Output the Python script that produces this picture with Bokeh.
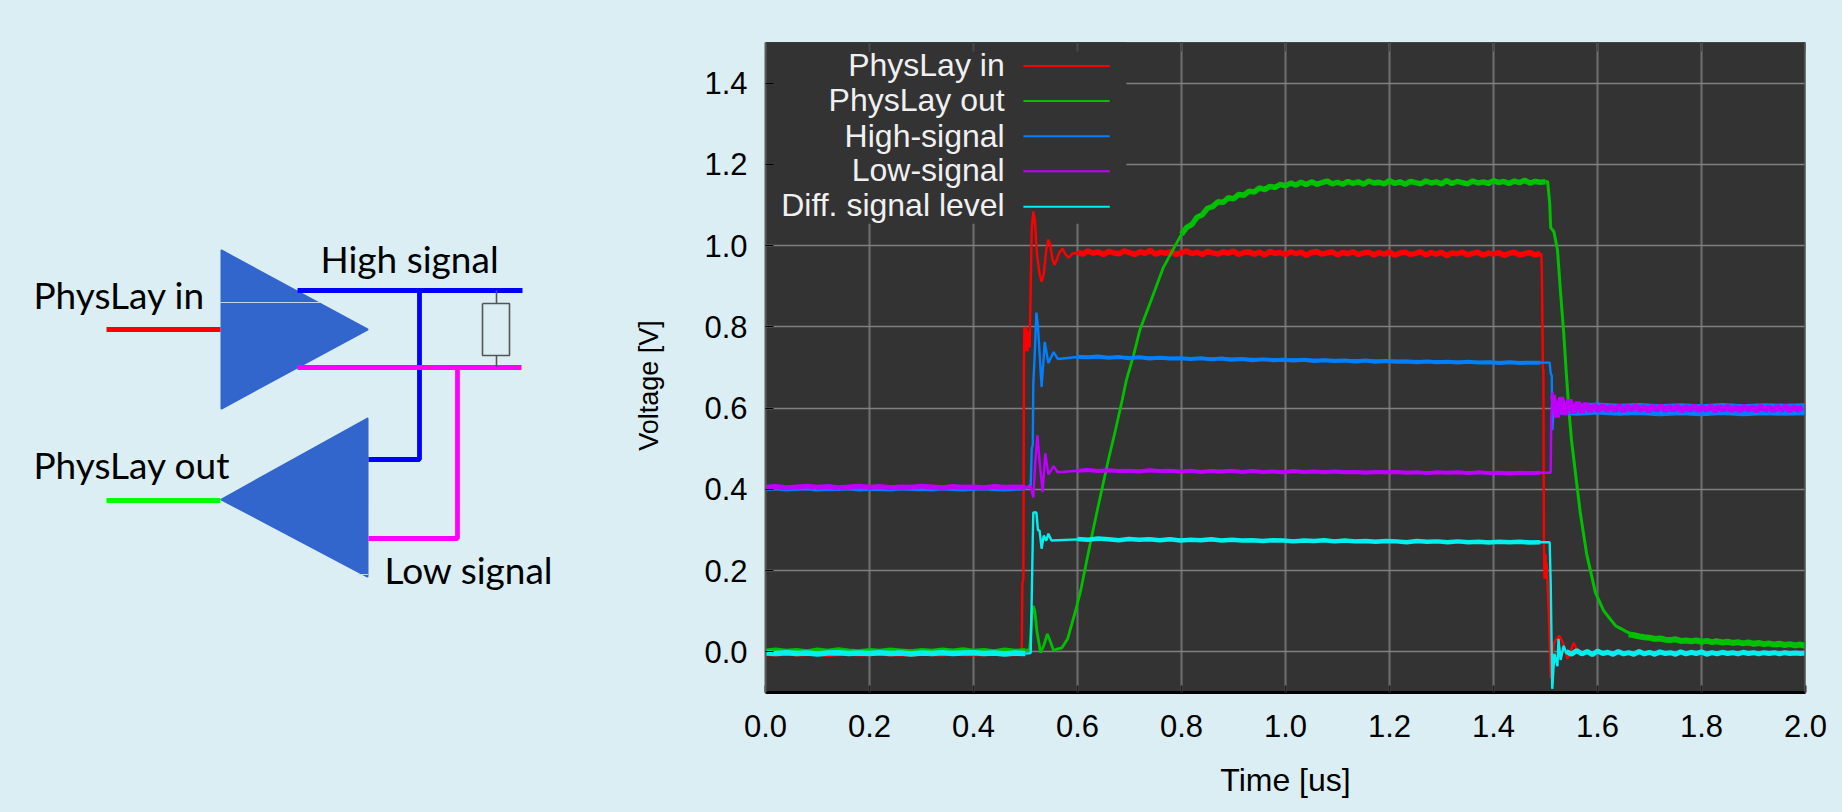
import math
import numpy as np
from bokeh.core.properties import value
from bokeh.embed import file_html
from bokeh.layouts import row
from bokeh.models import FixedTicker, NumeralTickFormatter, Range1d, Span
from bokeh.plotting import figure
from bokeh.resources import INLINE

PAGE_BG = "#dbeef4"
PLOT_BG = "#333333"

x_ticks = [0.0, 0.2, 0.4, 0.6, 0.8, 1.0, 1.2, 1.4, 1.6, 1.8, 2.0]
y_ticks = [0.0, 0.2, 0.4, 0.6, 0.8, 1.0, 1.2, 1.4]

series_names = ["PhysLay in", "PhysLay out", "High-signal", "Low-signal", "Diff. signal level"]
series_colors = ["#ff0000", "#00c000", "#0080ff", "#c000ff", "#00f0f0"]

# ---- thin parts: edges and ringing -------------------------------------------
red_t = [0.49, 0.492, 0.493, 0.494, 0.496, 0.497, 0.498, 0.500, 0.502, 0.504, 0.506, 0.508, 0.510, 0.512, 0.515,
         0.518, 0.522, 0.527, 0.531, 0.535, 0.540, 0.544, 0.548, 0.552, 0.556, 0.560, 0.565, 0.571, 0.576, 0.583,
         0.590, 0.600, 1.490, 1.492, 1.493, 1.495, 1.496, 1.497, 1.498, 1.500, 1.501, 1.502, 1.506, 1.510, 1.512,
         1.516, 1.520, 1.527, 1.534, 1.542, 1.548, 1.554, 1.562, 1.570]
red_v = [-0.004, 0.0, 0.02, 0.17, 0.18, 0.72, 0.80, 0.74, 0.80, 0.74, 0.79, 0.75, 0.90, 1.04, 1.084,
         1.06, 0.98, 0.93, 0.911, 0.93, 0.99, 1.015, 1.00, 0.965, 0.953, 0.965, 0.982, 0.993, 0.98, 0.970,
         0.98, 0.983, 0.979, 0.980, 0.935, 0.70, 0.69, 0.26, 0.18, 0.24, 0.18, 0.22, 0.11, -0.065, -0.02,
         0.02, 0.03, 0.04, 0.02, -0.017, 0.0, 0.022, 0.002, -0.002]

green_t = [0.50, 0.508, 0.510, 0.512, 0.515, 0.518, 0.522, 0.529, 0.535, 0.542, 0.548, 0.554, 0.560, 0.570, 0.581,
           0.596, 0.606, 0.615, 0.625, 0.638, 0.650, 0.660, 0.673, 0.686, 0.694, 0.708, 0.720, 0.740, 0.765, 0.788,
           0.800]
green_v = [0.004, 0.006, 0.04, 0.09, 0.113, 0.10, 0.05, -0.002, 0.015, 0.044, 0.025, 0.003, 0.007, 0.010, 0.032,
           0.10, 0.15, 0.207, 0.27, 0.348, 0.418, 0.476, 0.546, 0.62, 0.669, 0.731, 0.793, 0.86, 0.946, 1.0,
           1.028]
green_fall_t = [1.500, 1.504, 1.508, 1.510, 1.516, 1.523, 1.529, 1.535, 1.540, 1.545, 1.550, 1.560, 1.567, 1.579,
                1.596, 1.612, 1.635, 1.670]
green_fall_v = [1.157, 1.158, 1.106, 1.044, 1.035, 0.99, 0.884, 0.785, 0.686, 0.595, 0.521, 0.415, 0.341, 0.242,
                0.146, 0.101, 0.064, 0.040]

blue_t = [0.50, 0.510, 0.512, 0.514, 0.515, 0.518, 0.521, 0.524, 0.531, 0.537, 0.544, 0.554, 0.562, 0.60,
          1.50, 1.508, 1.510, 1.512, 1.513, 1.516]
blue_v = [0.403, 0.41, 0.50, 0.51, 0.66, 0.74, 0.835, 0.80, 0.652, 0.763, 0.711, 0.738, 0.721, 0.726,
          0.712, 0.712, 0.686, 0.68, 0.546, 0.60]

purple_t = [0.50, 0.510, 0.515, 0.519, 0.523, 0.527, 0.533, 0.538, 0.544, 0.554, 0.562, 0.60,
            1.50, 1.510, 1.511, 1.514]
purple_v = [0.405, 0.406, 0.38, 0.47, 0.533, 0.47, 0.393, 0.489, 0.437, 0.457, 0.442, 0.446,
            0.441, 0.441, 0.58, 0.64]

cyan_t = [0.50, 0.510, 0.512, 0.514, 0.515, 0.521, 0.524, 0.527, 0.531, 0.535, 0.540, 0.544, 0.550, 0.60,
          1.50, 1.508, 1.510, 1.512, 1.513, 1.517, 1.523, 1.525, 1.529, 1.535, 1.540]
cyan_v = [-0.004, -0.003, 0.133, 0.279, 0.343, 0.343, 0.299, 0.299, 0.254, 0.286, 0.274, 0.291, 0.274, 0.277,
          0.270, 0.270, 0.17, -0.005, -0.091, -0.005, -0.035, 0.032, -0.02, 0.015, -0.003]

# ---- noisy parts: thick bands -------------------------------------------------
pre_t = np.linspace(0.0, 0.50, 26)
red_pre = [-0.005, -0.006, -0.004, -0.006, -0.005, -0.004, -0.007, -0.005, -0.004, -0.006, -0.005, -0.004, -0.006,
           -0.005, -0.007, -0.004, -0.005, -0.006, -0.004, -0.005, -0.006, -0.005, -0.004, -0.006, -0.005, -0.004]
green_pre = [0.003, 0.005, 0.002, 0.004, 0.001, 0.005, 0.002, 0.006, 0.003, 0.001, 0.004, 0.002, 0.005,
             0.003, 0.001, 0.004, 0.002, 0.005, 0.003, 0.006, 0.002, 0.004, 0.001, 0.005, 0.002, 0.004]
blue_pre = [0.400, 0.402, 0.399, 0.401, 0.402, 0.399, 0.401, 0.400, 0.402, 0.399, 0.401, 0.400, 0.399,
            0.402, 0.400, 0.401, 0.399, 0.402, 0.400, 0.399, 0.401, 0.402, 0.400, 0.399, 0.401, 0.402]
purple_pre = [0.405, 0.407, 0.404, 0.406, 0.408, 0.405, 0.407, 0.404, 0.406, 0.408, 0.405, 0.407, 0.404,
              0.406, 0.405, 0.408, 0.406, 0.404, 0.407, 0.405, 0.406, 0.404, 0.407, 0.405, 0.406, 0.405]
cyan_pre = [-0.003, -0.004, -0.002, -0.004, -0.003, -0.005, -0.003, -0.002, -0.004, -0.003, -0.004, -0.002, -0.004,
            -0.003, -0.005, -0.003, -0.004, -0.002, -0.004, -0.003, -0.002, -0.004, -0.003, -0.005, -0.003, -0.004]

red_mid_t = np.linspace(0.60, 1.49, 90)
red_mid = [0.984, 0.979, 0.987, 0.981, 0.985, 0.978, 0.986, 0.982, 0.980, 0.987, 0.983, 0.978, 0.985, 0.981, 0.988,
           0.979, 0.984, 0.981, 0.986, 0.978, 0.983, 0.987, 0.980, 0.984, 0.978, 0.986, 0.982, 0.979, 0.985, 0.981,
           0.987, 0.978, 0.983, 0.985, 0.979, 0.984, 0.977, 0.986, 0.981, 0.983, 0.978, 0.985, 0.980, 0.984, 0.976,
           0.983, 0.986, 0.979, 0.982, 0.985, 0.977, 0.983, 0.980, 0.985, 0.978, 0.982, 0.984, 0.977, 0.983, 0.979,
           0.985, 0.976, 0.982, 0.984, 0.978, 0.981, 0.985, 0.977, 0.983, 0.979, 0.984, 0.975, 0.982, 0.980, 0.984,
           0.977, 0.981, 0.984, 0.976, 0.982, 0.979, 0.983, 0.976, 0.981, 0.984, 0.977, 0.980, 0.983, 0.977, 0.981]

mid_t = np.linspace(0.60, 1.49, 46)
blue_mid = [0.726, 0.725, 0.727, 0.724, 0.726, 0.723, 0.725, 0.722, 0.724, 0.722, 0.723, 0.721, 0.723, 0.720, 0.722,
            0.719, 0.721, 0.718, 0.720, 0.718, 0.719, 0.717, 0.719, 0.716, 0.718, 0.716, 0.717, 0.715, 0.717, 0.714,
            0.716, 0.714, 0.715, 0.713, 0.715, 0.713, 0.714, 0.712, 0.714, 0.712, 0.713, 0.711, 0.713, 0.711, 0.712,
            0.712]
purple_mid = [0.446, 0.448, 0.445, 0.447, 0.445, 0.446, 0.444, 0.447, 0.445, 0.446, 0.444, 0.446, 0.443, 0.445, 0.444,
              0.446, 0.443, 0.445, 0.443, 0.444, 0.442, 0.445, 0.443, 0.444, 0.442, 0.444, 0.442, 0.443, 0.441, 0.443,
              0.442, 0.443, 0.441, 0.442, 0.440, 0.442, 0.441, 0.442, 0.440, 0.442, 0.440, 0.441, 0.439, 0.441, 0.440,
              0.441]
cyan_mid = [0.278, 0.276, 0.279, 0.277, 0.275, 0.278, 0.276, 0.277, 0.275, 0.277, 0.274, 0.276, 0.275, 0.277, 0.274,
            0.276, 0.274, 0.275, 0.273, 0.275, 0.274, 0.272, 0.274, 0.273, 0.275, 0.272, 0.274, 0.272, 0.273, 0.271,
            0.273, 0.272, 0.270, 0.273, 0.271, 0.272, 0.270, 0.272, 0.270, 0.271, 0.269, 0.271, 0.270, 0.271, 0.269,
            0.270]

green_top_t = np.linspace(0.80, 1.50, 71)
green_top = [1.028, 1.045, 1.052, 1.070, 1.076, 1.092, 1.096, 1.108, 1.106, 1.118, 1.115, 1.126, 1.124, 1.134, 1.132,
             1.142, 1.138, 1.146, 1.143, 1.151, 1.147, 1.154, 1.149, 1.156, 1.150, 1.157, 1.151, 1.155, 1.159, 1.152,
             1.156, 1.151, 1.158, 1.153, 1.157, 1.151, 1.159, 1.154, 1.156, 1.152, 1.160, 1.153, 1.157, 1.151, 1.158,
             1.155, 1.152, 1.159, 1.154, 1.157, 1.152, 1.160, 1.153, 1.158, 1.155, 1.152, 1.159, 1.154, 1.157, 1.153,
             1.160, 1.155, 1.158, 1.153, 1.159, 1.155, 1.161, 1.154, 1.158, 1.156, 1.157]

tail_t = np.linspace(1.66, 2.0, 35)
green_tail = [0.043, 0.041, 0.038, 0.036, 0.035, 0.032, 0.033, 0.030, 0.029, 0.031, 0.027, 0.028, 0.026, 0.028, 0.025,
              0.027, 0.024, 0.026, 0.023, 0.025, 0.022, 0.024, 0.021, 0.023, 0.020, 0.022, 0.019, 0.021, 0.018, 0.020,
              0.017, 0.019, 0.016, 0.018, 0.015]

end_t = np.linspace(1.54, 2.0, 47)
red_end = [0.002, -0.007, 0.003, -0.006, -0.001, -0.008, 0.002, -0.005, -0.002, -0.007, 0.001, -0.006, -0.002, -0.008,
           0.002, -0.006, -0.001, -0.007, 0.001, -0.005, -0.002, -0.008, 0.001, -0.006, -0.002, -0.005, 0.001, -0.007,
           -0.002, -0.006, 0.000, -0.005, -0.002, -0.007, 0.000, -0.005, -0.002, -0.006, 0.000, -0.005, -0.002, -0.006,
           0.000, -0.005, -0.002, -0.004, -0.002]
cyan_end = [0.001, -0.006, 0.003, -0.005, 0.001, -0.007, 0.002, -0.004, -0.001, -0.006, 0.001, -0.005, -0.002, -0.006,
            0.001, -0.005, -0.001, -0.006, 0.000, -0.004, -0.002, -0.006, 0.000, -0.005, -0.001, -0.004, 0.000, -0.006,
            -0.002, -0.005, -0.001, -0.004, -0.002, -0.005, -0.001, -0.004, -0.002, -0.005, -0.002, -0.004, -0.002,
            -0.005, -0.002, -0.004, -0.003, -0.004, -0.003]

low_tail_t = np.linspace(1.514, 1.994, 61)
purple_tail = [0.632, 0.578, 0.626, 0.584, 0.620, 0.588, 0.614, 0.590, 0.611, 0.593, 0.607, 0.594, 0.606, 0.595, 0.604,
               0.595, 0.605, 0.594, 0.604, 0.596, 0.605, 0.595, 0.603, 0.594, 0.604, 0.596, 0.605, 0.595, 0.603, 0.596,
               0.604, 0.594, 0.603, 0.596, 0.605, 0.595, 0.602, 0.596, 0.604, 0.594, 0.603, 0.596, 0.604, 0.595, 0.602,
               0.595, 0.604, 0.596, 0.603, 0.594, 0.604, 0.596, 0.602, 0.595, 0.603, 0.596, 0.604, 0.595, 0.602, 0.596,
               0.603]
blue_tail_t = np.linspace(1.52, 2.0, 13)
blue_tail = [0.600, 0.596, 0.599, 0.596, 0.598, 0.595, 0.597, 0.595, 0.598, 0.595, 0.597, 0.596, 0.597]

# ---- legend layout (plot data units) ------------------------------------------
legend_box = (0.0, 0.694, 1.054, 1.5)
legend_text_x = 0.46
legend_text_y = [1.444, 1.358, 1.271, 1.185, 1.099]
legend_line_x = [0.496, 0.662]
legend_line_y = [1.442, 1.356, 1.269, 1.183, 1.096]

# ---- schematic (page pixels) --------------------------------------------------
tri_up_x, tri_up_y = [221, 221, 367], [250, 408, 329]
tri_down_x, tri_down_y = [367, 367, 221], [418, 576, 499]
wires = [
    ("#ff0000", [106, 220], [329, 329]),
    ("#00ff00", [106, 220], [500, 500]),
    ("#0000ff", [297, 522], [290, 290]),
    ("#0000ff", [368, 419, 419], [459, 459, 290]),
    ("#ff00ff", [297, 521], [367, 367]),
    ("#ff00ff", [368, 457, 457], [538, 538, 367]),
]
res_x, res_y = [482, 509, 509, 482, 482], [303, 303, 355, 355, 303]
stems = [([496, 496], [290, 303]), ([496, 496], [355, 367])]
notes = [("High signal", 320, 258), ("PhysLay in", 33, 294), ("PhysLay out", 33, 464), ("Low signal", 384, 569)]
y_title = ("Voltage [V]", 648, 385)

# ---- left: schematic ----------------------------------------------------------
LEFT_W = 680
d = figure(width=LEFT_W, height=812, x_range=Range1d(0, LEFT_W), y_range=Range1d(692, 42),
           output_backend="svg", toolbar_location=None,
           min_border_left=0, min_border_right=0, min_border_top=42, min_border_bottom=120,
           background_fill_color=PAGE_BG, border_fill_color=PAGE_BG, outline_line_color=None)
d.axis.visible = False
d.grid.visible = False
d.patch(tri_up_x, tri_up_y, fill_color="#3366cc", line_color="#3366cc", line_width=2, line_join="round")
d.patch(tri_down_x, tri_down_y, fill_color="#3366cc", line_color="#3366cc", line_width=2, line_join="round")
d.line([220, 320], [302, 302], line_color="#c4d6ee", line_width=1)
d.line([358, 368], [574, 574], line_color="#c4d6ee", line_width=1)
for c, xs, ys in wires:
    d.line(xs, ys, line_color=c, line_width=4.8)
d.line(res_x, res_y, line_color="#555555", line_width=1.6)
for xs, ys in stems:
    d.line(xs, ys, line_color="#555555", line_width=1.6)
d.text([n[1] for n in notes], [n[2] for n in notes], text=[n[0] for n in notes],
       text_font=value("Lato"), text_font_size="37px", text_color="#000000",
       text_baseline="alphabetic", text_align="left")
d.text([y_title[1]], [y_title[2]], text=[y_title[0]], angle=math.pi / 2,
       text_font=value("Liberation Sans"), text_font_size="27px", text_color="#000000",
       text_align="center", text_baseline="middle")

# ---- right: measurement plot --------------------------------------------------
p = figure(width=1842 - LEFT_W, height=812, x_range=Range1d(0, 2), y_range=Range1d(-0.1, 1.5),
           output_backend="svg", toolbar_location=None,
           min_border_left=765 - LEFT_W, min_border_right=37, min_border_top=42, min_border_bottom=120,
           background_fill_color=PLOT_BG, border_fill_color=PAGE_BG, outline_line_color=None)

for g in p.xgrid:
    g.ticker = FixedTicker(ticks=x_ticks)
    g.grid_line_color = "#6c6c6c"
    g.grid_line_width = 2.2
for g in p.ygrid:
    g.ticker = FixedTicker(ticks=y_ticks)
    g.grid_line_color = "#808080"
    g.grid_line_width = 1.6

xa = p.xaxis[0]
xa.ticker = FixedTicker(ticks=x_ticks)
xa.formatter = NumeralTickFormatter(format="0.0")
xa.axis_label = "Time [us]"
xa.axis_label_text_font = "Liberation Sans"
xa.axis_label_text_font_size = "32px"
xa.axis_label_text_font_style = "normal"
xa.axis_label_text_color = "#000000"
xa.axis_label_standoff = 22
xa.major_label_text_font = "Liberation Sans"
xa.major_label_text_font_size = "31px"
xa.major_label_text_color = "#000000"
xa.major_label_standoff = 22
xa.major_tick_in = 7
xa.major_tick_out = 0
xa.minor_tick_line_color = None
xa.major_tick_line_color = "#222222"
xa.major_tick_line_width = 2
xa.axis_line_color = "#000000"
xa.axis_line_width = 3

ya = p.yaxis[0]
ya.ticker = FixedTicker(ticks=y_ticks)
ya.formatter = NumeralTickFormatter(format="0.0")
ya.major_label_text_font = "Liberation Sans"
ya.major_label_text_font_size = "31px"
ya.major_label_text_color = "#000000"
ya.major_label_standoff = 18
ya.major_tick_in = 8
ya.major_tick_out = 0
ya.minor_tick_line_color = None
ya.major_tick_line_color = "#000000"
ya.axis_line_color = "#5c5c5c"
ya.axis_line_width = 2

# legend panel covers the grid
p.quad(left=[legend_box[0]], right=[legend_box[1]], bottom=[legend_box[2]], top=[legend_box[3]],
       fill_color=PLOT_BG, line_color=None)
# stubs along the top edge, frame lines
p.segment(x_ticks, [1.5] * len(x_ticks), x_ticks, [1.478] * len(x_ticks), line_color="#484848", line_width=2)
p.add_layout(Span(location=1.5, dimension="width", line_color="#000000", line_width=1.2))
p.add_layout(Span(location=2.0, dimension="height", line_color="#5c5c5c", line_width=2.4))

T = 2.4
R, G, B, M, C = series_colors
# red
p.line(pre_t, red_pre, line_color=R, line_width=4.5)
p.line(red_mid_t, red_mid, line_color=R, line_width=5.5)
p.line(end_t, red_end, line_color=R, line_width=3.5)
p.line(red_t, red_v, line_color=R, line_width=T, name=series_names[0])
# green
p.line(pre_t, green_pre, line_color=G, line_width=4.5)
p.line(green_t, green_v, line_color=G, line_width=T + 0.4, name=series_names[1])
p.line(green_top_t, green_top, line_color=G, line_width=5.5)
p.line(green_fall_t, green_fall_v, line_color=G, line_width=T + 0.6)
p.line(tail_t, green_tail, line_color=G, line_width=6)
# blue
p.line(pre_t, blue_pre, line_color=B, line_width=3.5)
p.line(mid_t, blue_mid, line_color=B, line_width=4)
p.line(blue_tail_t, blue_tail, line_color=B, line_width=12)
p.line(blue_t, blue_v, line_color=B, line_width=T, name=series_names[2])
# purple
p.line(pre_t, purple_pre, line_color=M, line_width=5)
p.line(mid_t, purple_mid, line_color=M, line_width=4)
p.line(low_tail_t, purple_tail, line_color=M, line_width=6)
p.line(purple_t, purple_v, line_color=M, line_width=T, name=series_names[3])
# cyan
p.line(pre_t, cyan_pre, line_color=C, line_width=5.5)
p.line(mid_t, cyan_mid, line_color=C, line_width=4.5)
p.line(end_t, cyan_end, line_color=C, line_width=5)
p.line(cyan_t, cyan_v, line_color=C, line_width=T, name=series_names[4])

# legend
p.text([legend_text_x] * 5, legend_text_y, text=series_names, text_align="right", text_baseline="alphabetic",
       text_font=value("Liberation Sans"), text_font_size="32px", text_color="#f0f0f0")
for yy, c in zip(legend_line_y, series_colors):
    p.line(legend_line_x, [yy, yy], line_color=c, line_width=2)

page = row(d, p, spacing=0)
html = file_html(page, INLINE)
html = html.replace("<head>", "<head><style>html,body{background:%s;overflow:hidden}</style>" % PAGE_BG, 1)
open("out.html", "w").write(html)
